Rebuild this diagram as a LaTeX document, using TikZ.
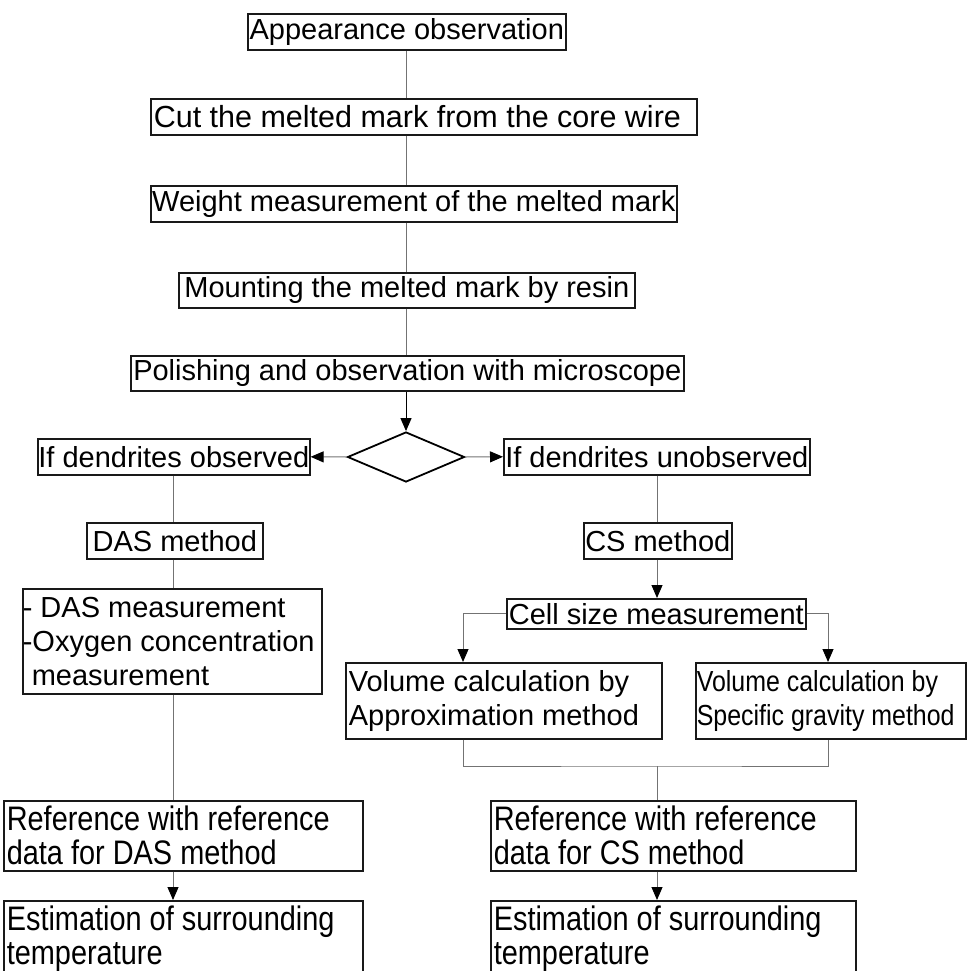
\documentclass[tikz,border=0pt]{standalone}
\usepackage{fontspec}
\setmainfont{Liberation Sans}
\newfontfamily\narrowsans{Liberation Sans}[FakeStretch=0.85]
\newfontfamily\tightsans{Liberation Sans}[FakeStretch=0.86]
\usetikzlibrary{shapes, arrows.meta, calc}

\begin{document}
\begin{tikzpicture}[x=1pt, y=-1pt,
            stepbox/.style={draw=black!90, line width=1.6pt, inner sep=0pt, anchor=north west,
                font=\fontsize{29}{34}\selectfont},
            leftbox/.style={stepbox, inner xsep=3pt, text width=#1, align=flush left},
            narrowbox/.style={leftbox=#1, font=\narrowsans\fontsize{34}{34}\selectfont},
            ln/.style={draw=black!55, line width=1pt},
            arr/.style={ln, -{Triangle[length=13pt, width=11pt, color=black]}},
            decide/.style={diamond, draw=black, line width=1.8pt, minimum width=117pt, minimum height=50pt, inner sep=0pt}]
            \useasboundingbox (0,0) rectangle (967,971);
            % main column
            \node[stepbox, minimum width=318pt, minimum height=36pt] (appear) at (247,13) {Appearance observation};
            \node[leftbox=540pt, minimum height=36pt, font=\fontsize{30.5}{34}\selectfont] (cut) at (150,98) {Cut the melted mark from the core wire};
            \node[stepbox, minimum width=526pt, minimum height=36pt] (weigh) at (150,185) {Weight measurement of the melted mark};
            \node[stepbox, minimum width=456pt, minimum height=35pt] (mount) at (178,272) {Mounting the melted mark by resin};
            \node[stepbox, minimum width=553pt, minimum height=35pt] (polish) at (130,355) {Polishing and observation with microscope};
            \node[decide] (split) at (406,457) {};
            \node[stepbox, minimum width=272pt, minimum height=36pt] (obs) at (37,438) {If dendrites observed};
            \node[stepbox, minimum width=306pt, minimum height=36pt] (unobs) at (503,438) {If dendrites unobserved};
            % DAS branch
            \node[stepbox, minimum width=176pt, minimum height=36pt] (dasm) at (86,522) {DAS method};
            \node[leftbox=299pt, inner xsep=0pt, minimum height=105pt] (dasmeas) at (22,588) {-~DAS measurement\\-Oxygen concentration\\\hspace*{9pt}measurement};
            \node[narrowbox=353pt, minimum height=70pt] (refdas) at (3,800) {Reference with reference\\data for DAS method};
            \node[narrowbox=353pt, minimum height=76pt] (estdas) at (3,900) {Estimation of surrounding\\temperature};
            % CS branch
            \node[stepbox, minimum width=148pt, minimum height=36pt] (csm) at (583,522) {CS method};
            \node[stepbox, minimum width=299pt, minimum height=30pt] (cell) at (506,598) {Cell size measurement};
            \node[leftbox=310pt, minimum height=76pt] (volap) at (345,662) {Volume calculation by\\Approximation method};
            \node[leftbox=268pt, inner xsep=1pt, minimum height=76pt, font=\tightsans\fontsize{29}{34}\selectfont] (volsg) at (695,662) {Volume calculation by\\Specific gravity method};
            \node[narrowbox=359pt, minimum height=70pt] (refcs) at (490,800) {Reference with reference\\data for CS method};
            \node[narrowbox=359pt, minimum height=76pt] (estcs) at (490,900) {Estimation of surrounding\\temperature};
            \coordinate (lcol) at (173,0);
            \coordinate (rcol) at (657,0);
            \coordinate (apcol) at (463,0);
            \coordinate (sgcol) at (828,0);
            \coordinate (join) at (657,766);
            \draw[ln] (appear.south) -- (appear.south |- cut.north);
            \draw[ln] (cut.south -| appear) -- (weigh.north -| appear);
            \draw[ln] (weigh.south -| appear) -- (mount.north -| appear);
            \draw[ln] (mount.south -| appear) -- (polish.north -| appear);
            \draw[arr, draw=black] (polish.south -| split) -- (split.north);
            \draw[arr] (split.west) -- (obs.east);
            \draw[arr] (split.east) -- (unobs.west);
            \draw[ln] (obs.south -| lcol) -- (dasm.north -| lcol);
            \draw[ln] (dasm.south -| lcol) -- (dasmeas.north -| lcol);
            \draw[ln] (dasmeas.south -| lcol) -- (refdas.north -| lcol);
            \draw[arr] (refdas.south -| lcol) -- (estdas.north -| lcol);
            \draw[ln] (unobs.south -| rcol) -- (csm.north -| rcol);
            \draw[arr] (csm.south -| rcol) -- (cell.north -| rcol);
            \draw[arr] (cell.west) -| (volap.north -| apcol);
            \draw[arr] (cell.east) -| (volsg.north -| sgcol);
            \draw[ln] (volap.south -| apcol) |- (join) -| (volsg.south -| sgcol);
            \draw[ln] (join) -- (refcs.north -| rcol);
            \draw[arr] (refcs.south -| rcol) -- (estcs.north -| rcol);
        \end{tikzpicture}
\end{document}
